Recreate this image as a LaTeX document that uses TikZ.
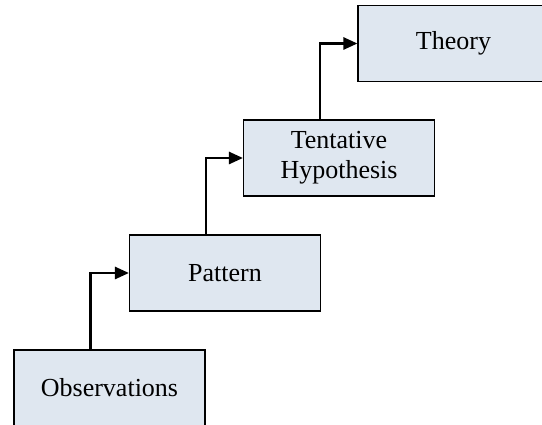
\documentclass[tikz,border=0pt]{standalone}
\usepackage{fontspec}
\setmainfont{Liberation Serif}
\usetikzlibrary{arrows.meta}
\definecolor{boxfill}{HTML}{DFE7F0}
\begin{document}
\begin{tikzpicture}[x=1pt,y=1pt,
  stage/.style={draw=black, line width=1.1pt, fill=boxfill, minimum width=191pt, minimum height=76pt, inner sep=0pt, align=center, font=\fontsize{26}{30}\selectfont},
  link/.style={line width=2.6pt, -{Triangle[length=14pt,width=12pt]}}]
\useasboundingbox (0,0) rectangle (542,-425);
\node[stage] (obs) at (109.5,-388) {Observations};
\node[stage] (pat) at (225,-273) {Pattern};
\node[stage] (ten) at (339,-158) {Tentative\\Hypothesis};
\node[stage] (the) at (453.5,-43.5) {Theory};
\draw[link] ([xshift=-19pt]obs.north) |- (pat.west);
\draw[link] ([xshift=-19pt]pat.north) |- (ten.west);
\draw[link] ([xshift=-19pt]ten.north) |- (the.west);
\end{tikzpicture}
\end{document}
